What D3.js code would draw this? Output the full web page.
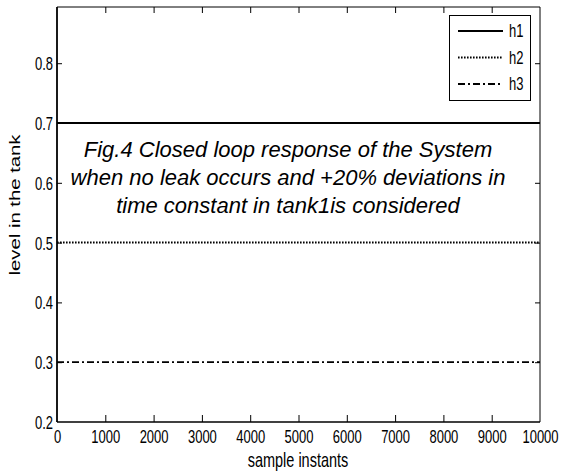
<!DOCTYPE html>
<html>
<head>
<meta charset="utf-8">
<script src="https://cdnjs.cloudflare.com/ajax/libs/d3/7.8.5/d3.min.js"></script>
<style>
  body { margin: 0; background: #fff; }
  svg { display: block; }
  .axis path { display: none; }
  .axis line { stroke: #000; stroke-width: 1; }
  .axis text { font-family: "Liberation Sans", Arial, sans-serif; font-size: 13px; fill: #000; }
</style>
</head>
<body>
<svg id="chart"></svg>
<script>

// data (constant levels over the run)
const sampleInstants = [0, 10000];
const h1 = [0.7, 0.7];
const h2 = [0.5, 0.5];
const h3 = [0.3, 0.3];
const seriesNames = ["h1", "h2", "h3"];
const xTicks = [0, 1000, 2000, 3000, 4000, 5000, 6000, 7000, 8000, 9000, 10000];
const yTicks = [0.2, 0.3, 0.4, 0.5, 0.6, 0.7, 0.8];
const titleLines = [
	"Fig.4 Closed loop response of the System",
	"when no leak occurs and +20% deviations in",
	"time constant in tank1is considered"
];

const W = 563, H = 473;
const stretch = 1.4; // the matlab text is stretched vertically in the original

const svg = d3.select("#chart").attr("width", W).attr("height", H);

const xScale = d3.scaleLinear().domain([0, 10000]).range([57, 540]),
	yScale = d3.scaleLinear().domain([0.2, 0.894]).range([422, 7]);

const styles = {
	h1: { width: 2.2, dash: null },
	h2: { width: 2, dash: "1.6,1.4" },
	h3: { width: 1.8, dash: "7,3,2,3" }
};
const values = { h1: h1, h2: h2, h3: h3 };

const line = d3.line()
	.x(d => xScale(d.x))
	.y(d => yScale(d.y));

seriesNames.forEach(name => {
	svg.append("path")
		.datum(sampleInstants.map((x, i) => ({ x: x, y: values[name][i] })))
		.attr("d", line)
		.attr("fill", "none")
		.attr("stroke", "#000")
		.attr("stroke-width", styles[name].width)
		.attr("stroke-dasharray", styles[name].dash);
});

// axes, ticks pointing inwards
const x0 = xScale(0), x1 = xScale(10000), y0 = yScale(0.2), y1 = yScale(0.894);

const xAxis = svg.append("g").attr("class", "axis")
	.attr("transform", "translate(0," + y0 + ")")
	.call(d3.axisBottom(xScale).tickValues(xTicks).tickSize(-7).tickFormat(d3.format("d")));
xAxis.selectAll("text")
	.attr("y", null).attr("dy", null)
	.attr("transform", "translate(0,21) scale(1," + stretch + ")");
xAxis.selectAll(".tick").filter(d => d === 0 || d === 10000).select("line").remove();

svg.append("g").attr("class", "axis")
	.attr("transform", "translate(0," + y1 + ")")
	.call(d3.axisTop(xScale).tickValues(xTicks.slice(1, -1)).tickSize(-6).tickFormat(""));

const yAxis = svg.append("g").attr("class", "axis")
	.attr("transform", "translate(" + x0 + ",0)")
	.call(d3.axisLeft(yScale).tickValues(yTicks).tickSize(-5).tickFormat(d3.format(".1f")));
yAxis.selectAll("text")
	.attr("x", null).attr("dy", null)
	.attr("transform", "translate(-4,6.5) scale(1," + stretch + ")");
yAxis.selectAll(".tick").filter(d => d === 0.2).select("line").remove();

svg.append("g").attr("class", "axis")
	.attr("transform", "translate(" + x1 + ",0)")
	.call(d3.axisRight(yScale).tickValues(yTicks.slice(1)).tickSize(-5).tickFormat(""));

// box
svg.append("line").attr("x1", x0).attr("x2", x0).attr("y1", y1).attr("y2", y0)
	.attr("stroke", "#000").attr("stroke-width", 1.8);
svg.append("line").attr("x1", x0).attr("x2", x1).attr("y1", y0).attr("y2", y0)
	.attr("stroke", "#000").attr("stroke-width", 1.5);
svg.append("line").attr("x1", x0).attr("x2", x1).attr("y1", y1).attr("y2", y1)
	.attr("stroke", "#000").attr("stroke-width", 1);
svg.append("line").attr("x1", x1).attr("x2", x1).attr("y1", y1).attr("y2", y0)
	.attr("stroke", "#000").attr("stroke-width", 1);

// axis labels
svg.append("text")
	.attr("transform", "translate(298,467) scale(1," + stretch + ")")
	.attr("text-anchor", "middle")
	.attr("font-family", "Liberation Sans, Arial, sans-serif")
	.attr("font-size", "14.5px")
	.text("sample instants");

svg.append("text")
	.attr("transform", "translate(20,205) rotate(-90) scale(" + stretch + ",1)")
	.attr("text-anchor", "middle")
	.attr("font-family", "Liberation Sans, Arial, sans-serif")
	.attr("font-size", "14.5px")
	.text("level in the tank");

// caption inside the plot
titleLines.forEach((t, i) => {
	svg.append("text")
		.attr("x", 288)
		.attr("y", 157 + i * 28)
		.attr("text-anchor", "middle")
		.attr("font-family", "Liberation Sans, Arial, sans-serif")
		.attr("font-style", "italic")
		.attr("font-size", "22px")
		.text(t);
});

// legend
const legend = svg.append("g").attr("class", "legend");
legend.append("rect")
	.attr("x", 449.5).attr("y", 15.5)
	.attr("width", 81).attr("height", 85)
	.attr("fill", "#fff").attr("stroke", "#000").attr("stroke-width", 1);

seriesNames.forEach((name, i) => {
	const ly = 31 + i * 26.5;
	legend.append("line")
		.attr("x1", 458).attr("x2", 503)
		.attr("y1", ly).attr("y2", ly)
		.attr("stroke", "#000")
		.attr("stroke-width", styles[name].width)
		.attr("stroke-dasharray", styles[name].dash);
	legend.append("text")
		.attr("transform", "translate(509," + (ly + 6) + ") scale(1," + stretch + ")")
		.attr("font-family", "Liberation Sans, Arial, sans-serif")
		.attr("font-size", "13px")
		.text(name);
});

</script>
</body>
</html>
